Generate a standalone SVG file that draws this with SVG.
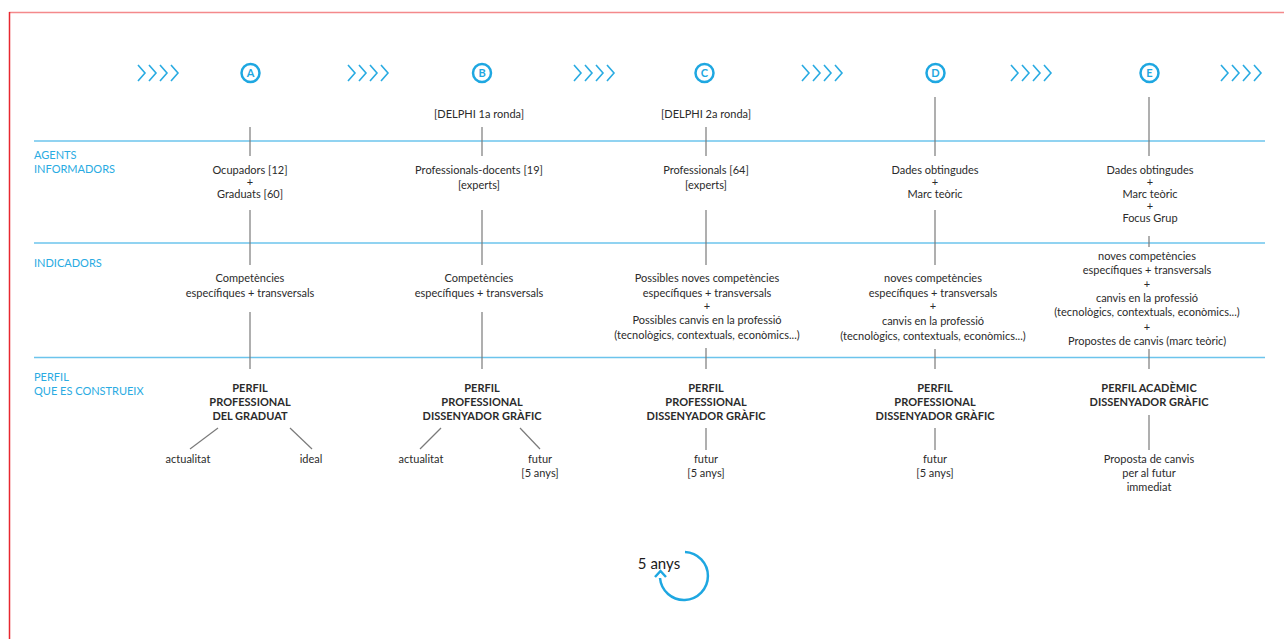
<svg xmlns="http://www.w3.org/2000/svg" width="1284" height="639" viewBox="0 0 1284 639">
<defs>
<style>
.t{font-family:Lato,"Open Sans","Liberation Sans",sans-serif;font-size:11px;fill:#2b2b2b;text-anchor:middle}
.b{font-weight:bold}
.lab{font-family:Lato,"Open Sans","Liberation Sans",sans-serif;font-size:11px;fill:#29abe2}
.hl{stroke:#6cc4ec;stroke-width:1.5;fill:none}
.vl{stroke:#7a7a7a;stroke-width:1.2;fill:none}
.ch{stroke:#29abe2;stroke-width:1.6;fill:none}
.ci{stroke:#1ea7e1;stroke-width:2.5;fill:none}
.cl{font-family:Lato,"Liberation Sans",sans-serif;font-size:11px;font-weight:bold;fill:#1ea7e1;text-anchor:middle}
</style>
<g id="chev"><path class="ch" d="M0,65 L7,73 L0,81 M11,65 L18,73 L11,81 M22,65 L29,73 L22,81 M33,65 L40,73 L33,81"/></g>
</defs>
<rect width="1284" height="639" fill="#fff"/>
<line x1="9" y1="12.5" x2="1284" y2="12.5" stroke="#f4898b" stroke-width="1.5"/>
<line x1="9.5" y1="12" x2="9.5" y2="639" stroke="#e8272f" stroke-width="1.5"/>
<g id="rows">
<line class="hl" x1="34" y1="141" x2="1265" y2="141"/>
<line class="hl" x1="34" y1="243" x2="1265" y2="243"/>
<line class="hl" x1="34" y1="357.5" x2="1265" y2="357.5"/>
<text class="lab"><tspan x="34" y="159">AGENTS</tspan><tspan x="34" y="173">INFORMADORS</tspan></text>
<text class="lab" x="34" y="267">INDICADORS</text>
<text class="lab"><tspan x="34" y="381">PERFIL</tspan><tspan x="34" y="395">QUE ES CONSTRUEIX</tspan></text>
</g>
<g id="timeline">
<use href="#chev" x="138"/><use href="#chev" x="348"/><use href="#chev" x="574"/><use href="#chev" x="802"/><use href="#chev" x="1011"/><use href="#chev" x="1221"/>
</g>
<g id="connectors">
<line class="vl" x1="250" y1="127" x2="250" y2="156"/>
<line class="vl" x1="250" y1="210" x2="250" y2="265"/>
<line class="vl" x1="250" y1="312" x2="250" y2="369"/>
<line class="vl" x1="218" y1="428" x2="190" y2="449"/>
<line class="vl" x1="290" y1="428" x2="312" y2="449"/>
<line class="vl" x1="482" y1="127" x2="482" y2="156"/>
<line class="vl" x1="482" y1="210" x2="482" y2="265"/>
<line class="vl" x1="482" y1="312" x2="482" y2="369"/>
<line class="vl" x1="441" y1="428" x2="420" y2="449"/>
<line class="vl" x1="520" y1="428" x2="540" y2="449"/>
<line class="vl" x1="706" y1="127" x2="706" y2="156"/>
<line class="vl" x1="706" y1="210" x2="706" y2="265"/>
<line class="vl" x1="706" y1="348" x2="706" y2="369"/>
<line class="vl" x1="706" y1="428" x2="706" y2="450"/>
<line class="vl" x1="935" y1="97" x2="935" y2="156"/>
<line class="vl" x1="935" y1="210" x2="935" y2="265"/>
<line class="vl" x1="935" y1="349" x2="935" y2="369"/>
<line class="vl" x1="935" y1="428" x2="935" y2="450"/>
<line class="vl" x1="1149" y1="97" x2="1149" y2="156"/>
<line class="vl" x1="1149" y1="236" x2="1149" y2="247"/>
<line class="vl" x1="1149" y1="349" x2="1149" y2="369"/>
<line class="vl" x1="1149" y1="415" x2="1149" y2="450"/>
</g>
<g id="nodeA">
<circle class="ci" cx="250.5" cy="73" r="9"/><text class="cl" x="250.5" y="77">A</text>
<text class="t"><tspan x="250" y="174">Ocupadors [12]</tspan><tspan x="250" y="186">+</tspan><tspan x="250" y="198">Graduats [60]</tspan></text>
<text class="t"><tspan x="250" y="282">Competències</tspan><tspan x="250" y="297">específiques + transversals</tspan></text>
<text class="t b"><tspan x="250" y="392">PERFIL</tspan><tspan x="250" y="406">PROFESSIONAL</tspan><tspan x="250" y="420">DEL GRADUAT</tspan></text>
<text class="t" x="188" y="463">actualitat</text>
<text class="t" x="311" y="463">ideal</text>
</g>
<g id="nodeB">
<circle class="ci" cx="482" cy="73" r="9"/><text class="cl" x="482" y="77">B</text>
<text class="t" x="479" y="118">[DELPHI 1a ronda]</text>
<text class="t"><tspan x="479" y="174">Professionals-docents [19]</tspan><tspan x="479" y="189">[experts]</tspan></text>
<text class="t"><tspan x="479" y="282">Competències</tspan><tspan x="479" y="297">específiques + transversals</tspan></text>
<text class="t b"><tspan x="482" y="392">PERFIL</tspan><tspan x="482" y="406">PROFESSIONAL</tspan><tspan x="482" y="420">DISSENYADOR GRÀFIC</tspan></text>
<text class="t" x="421" y="463">actualitat</text>
<text class="t"><tspan x="540" y="463">futur</tspan><tspan x="540" y="477">[5 anys]</tspan></text>
</g>
<g id="nodeC">
<circle class="ci" cx="704.5" cy="73" r="9"/><text class="cl" x="704.5" y="77">C</text>
<text class="t" x="706" y="118">[DELPHI 2a ronda]</text>
<text class="t"><tspan x="706" y="174">Professionals [64]</tspan><tspan x="706" y="189">[experts]</tspan></text>
<text class="t"><tspan x="707" y="282">Possibles noves competències</tspan><tspan x="707" y="297">específiques + transversals</tspan><tspan x="707" y="310">+</tspan><tspan x="707" y="324">Possibles canvis en la professió</tspan><tspan x="707" y="339">(tecnològics, contextuals, econòmics...)</tspan></text>
<text class="t b"><tspan x="706" y="392">PERFIL</tspan><tspan x="706" y="406">PROFESSIONAL</tspan><tspan x="706" y="420">DISSENYADOR GRÀFIC</tspan></text>
<text class="t"><tspan x="706" y="463">futur</tspan><tspan x="706" y="477">[5 anys]</tspan></text>
</g>
<g id="nodeD">
<circle class="ci" cx="935.5" cy="73" r="9"/><text class="cl" x="935.5" y="77">D</text>
<text class="t"><tspan x="935" y="174">Dades obtingudes</tspan><tspan x="935" y="186">+</tspan><tspan x="935" y="198">Marc teòric</tspan></text>
<text class="t"><tspan x="933" y="282">noves competències</tspan><tspan x="933" y="297">específiques + transversals</tspan><tspan x="933" y="310">+</tspan><tspan x="933" y="325">canvis en la professió</tspan><tspan x="933" y="340">(tecnològics, contextuals, econòmics...)</tspan></text>
<text class="t b"><tspan x="935" y="392">PERFIL</tspan><tspan x="935" y="406">PROFESSIONAL</tspan><tspan x="935" y="420">DISSENYADOR GRÀFIC</tspan></text>
<text class="t"><tspan x="935" y="463">futur</tspan><tspan x="935" y="477">[5 anys]</tspan></text>
</g>
<g id="nodeE">
<circle class="ci" cx="1149.5" cy="73" r="9"/><text class="cl" x="1149.5" y="77">E</text>
<text class="t"><tspan x="1150" y="174">Dades obtingudes</tspan><tspan x="1150" y="186">+</tspan><tspan x="1150" y="198">Marc teòric</tspan><tspan x="1150" y="210">+</tspan><tspan x="1150" y="222">Focus Grup</tspan></text>
<text class="t"><tspan x="1147" y="260">noves competències</tspan><tspan x="1147" y="274">específiques + transversals</tspan><tspan x="1147" y="288">+</tspan><tspan x="1147" y="302">canvis en la professió</tspan><tspan x="1147" y="316">(tecnològics, contextuals, econòmics...)</tspan><tspan x="1147" y="331">+</tspan><tspan x="1147" y="345">Propostes de canvis (marc teòric)</tspan></text>
<text class="t b"><tspan x="1149" y="392">PERFIL ACADÈMIC</tspan><tspan x="1149" y="406">DISSENYADOR GRÀFIC</tspan></text>
<text class="t"><tspan x="1149" y="463">Proposta de canvis</tspan><tspan x="1149" y="477">per al futur</tspan><tspan x="1149" y="491">immediat</tspan></text>
</g>
<g id="cycle">
<path d="M685,552 A24,24 0 1 1 660,578" stroke="#1ea7e1" stroke-width="2.5" fill="none"/>
<path d="M655,577 L660.5,571 L666,577" stroke="#1ea7e1" stroke-width="2.5" fill="none"/>
<text x="659" y="569" style="font-family:Lato,'Liberation Sans',sans-serif;font-size:15px;fill:#1a1a1a;text-anchor:middle">5 anys</text>
</g>
</svg>
